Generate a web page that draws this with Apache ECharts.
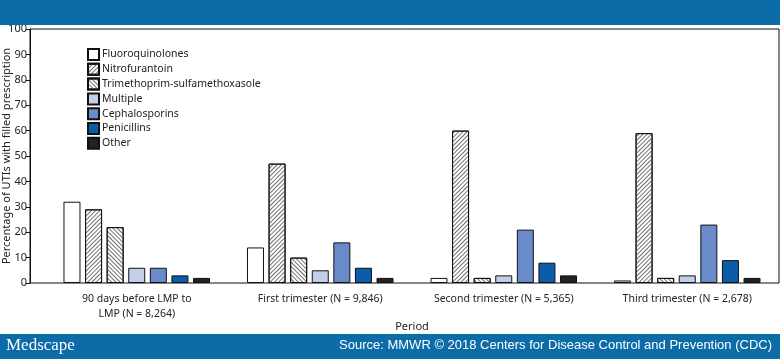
<!DOCTYPE html>
<html><head><meta charset="utf-8">
<script src="https://cdn.jsdelivr.net/npm/echarts@6/dist/echarts.min.js"></script>
<style>html,body{margin:0;padding:0;background:#fff}#c{width:780px;height:359px}</style>
</head><body><div id="c"></div>
<script>
const categories = ['90 days before LMP to\nLMP (N = 8,264)', 'First trimester (N = 9,846)', 'Second trimester (N = 5,365)', 'Third trimester (N = 2,678)'];
const seriesNames = ['Fluoroquinolones', 'Nitrofurantoin', 'Trimethoprim-sulfamethoxasole', 'Multiple', 'Cephalosporins', 'Penicillins', 'Other'];
const fluoroquinolones = [32, 14, 2, 1];
const nitrofurantoin = [29, 47, 60, 59];
const trimethoprimSulfa = [22, 10, 2, 2];
const multiple = [6, 5, 3, 3];
const cephalosporins = [6, 16, 21, 23];
const penicillins = [3, 6, 8, 9];
const other = [2, 2, 3, 2];
const yTicks = [0, 10, 20, 30, 40, 50, 60, 70, 80, 90, 100];

const values = [fluoroquinolones, nitrofurantoin, trimethoprimSulfa, multiple, cephalosporins, penicillins, other];
const fills = ['#ffffff', '#ffffff', '#ffffff', '#c3cfe9', '#6a8bc9', '#0b5cab', '#222222'];
const decals = [
  null,
  {symbol: 'rect', symbolSize: 1, dashArrayX: [1, 0], dashArrayY: [1, 2], rotation: -Math.PI / 4, color: '#707070'},
  {symbol: 'rect', symbolSize: 1, dashArrayX: [1, 0], dashArrayY: [1, 2], rotation: Math.PI / 4, color: '#707070'},
  null, null, null, null
];
const FONT = '"Noto Sans", sans-serif';
const BLUE = '#0b6ca8';

const chart = echarts.init(document.getElementById('c'), null, {renderer: 'canvas', devicePixelRatio: 1});
const series = seriesNames.map((n, i) => {
  const style = {color: fills[i], borderColor: '#111', borderWidth: 1};
  if (decals[i]) style.decal = decals[i];
  return {
    name: n, type: 'bar', data: values[i], barWidth: 17, barGap: '27%',
    itemStyle: style, emphasis: {disabled: true}, animation: false
  };
});
chart.setOption({
  animation: false,
  textStyle: {fontFamily: FONT},
  grid: [
    {left: 45, right: 1, top: 29, bottom: 76, show: false, containLabel: false, outerBoundsMode: 'none'},
    {left: 30, right: 1, top: 29, bottom: 76, show: true, borderColor: '#111', borderWidth: 1,
      containLabel: false, outerBoundsMode: 'none'}
  ],
  legend: {
    orient: 'vertical', left: 82, top: 43, itemWidth: 11, itemHeight: 11, itemGap: 1.8,
    icon: 'rect', selectedMode: false,
    textStyle: {fontFamily: FONT, fontSize: 10.5, color: '#222', padding: [0, 0, 0, -2]},
    data: seriesNames
  },
  xAxis: [{
    type: 'category', data: categories, gridIndex: 0,
    name: 'Period', nameLocation: 'middle', nameGap: 38, nameMoveOverlap: false,
    nameTextStyle: {fontFamily: FONT, fontSize: 11, color: '#222'},
    axisLine: {show: false},
    axisTick: {show: false},
    axisLabel: {fontFamily: FONT, fontSize: 10.5, color: '#222', margin: 9, lineHeight: 15, interval: 0}
  }, {
    type: 'value', gridIndex: 1, show: false, min: 0, max: 1
  }],
  yAxis: [{
    type: 'value', gridIndex: 0, min: 0, max: 100, interval: 10, offset: 15,
    name: 'Percentage of UTIs with filled prescription', nameLocation: 'middle', nameGap: 18,
    nameMoveOverlap: false,
    nameTextStyle: {fontFamily: FONT, fontSize: 11, color: '#222'},
    axisLine: {show: true, lineStyle: {color: '#111', width: 1}},
    axisTick: {show: true, length: 4, lineStyle: {color: '#111'}},
    splitLine: {show: false},
    axisLabel: {fontFamily: FONT, fontSize: 11, color: '#222', margin: 3,
      formatter: v => yTicks.includes(v) ? String(v) : ''}
  }, {
    type: 'value', gridIndex: 1, show: false, min: 0, max: 1
  }],
  series: series,
  graphic: [
    {type: 'rect', left: 0, top: 0, shape: {width: 780, height: 25}, style: {fill: BLUE}, z: 100},
    {type: 'rect', left: 0, top: 334, shape: {width: 780, height: 25}, style: {fill: BLUE}, z: 100},
    {type: 'text', left: 6, top: 337, z: 101,
      style: {text: 'Medscape', fill: '#fff', font: '17px "Liberation Serif", serif'}},
    {type: 'text', right: 8, top: 339, z: 101,
      style: {text: 'Source: MMWR \u00A9 2018 Centers for Disease Control and Prevention (CDC)', fill: '#fff', font: '13px "Liberation Sans", sans-serif'}}
  ]
});
</script>
</body></html>
